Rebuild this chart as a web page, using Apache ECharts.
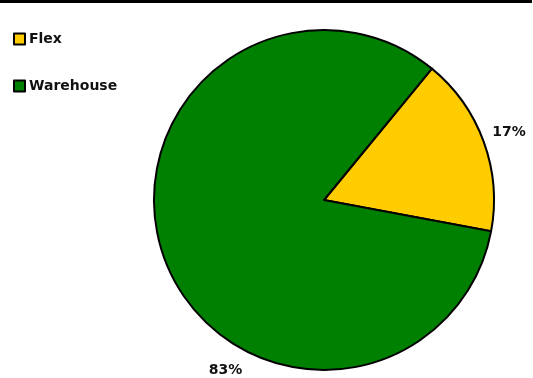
<!DOCTYPE html>
<html>
<head>
<meta charset="utf-8">
<script src="https://cdn.jsdelivr.net/npm/echarts@6/dist/echarts.min.js"></script>
<style>
  html, body { margin: 0; padding: 0; background: #fff; }
  #chart { width: 533px; height: 378px; }
</style>
</head>
<body>
<div id="chart"></div>
<script>
// Share of volume by fulfilment channel
const categories = ['Flex', 'Warehouse'];
const shares = [17, 83];
const sliceColors = ['#FFCC00', '#008000'];

// Where each percentage label sits: angle clockwise from 12 o'clock, gap beyond the rim
const labelAngles = [70, 210];
const labelGap = 27;

const CENTER = [324, 200];
const RADIUS = 170;

const FONT = 'DejaVu Sans';

const chart = echarts.init(document.getElementById('chart'), null, { renderer: 'canvas' });

chart.setOption({
  animation: false,
  backgroundColor: '#ffffff',
  graphic: [{
    type: 'rect',
    left: 0, top: 0,
    shape: { width: 532, height: 3 },
    style: { fill: '#000' },
    silent: true
  }],
  legend: {
    orient: 'vertical',
    left: 13,
    top: 32,
    padding: 0,
    itemWidth: 11,
    itemHeight: 11,
    itemGap: 33,
    icon: 'rect',
    itemStyle: { borderColor: '#000', borderWidth: 2 },
    textStyle: { fontFamily: FONT, fontWeight: 'bold', fontSize: 14, color: '#111', padding: [0, 0, 0, -1] },
    data: categories
  },
  series: [{
    type: 'pie',
    center: CENTER,
    radius: RADIUS,
    startAngle: 90 - 39.4,
    clockwise: true,
    silent: true,
    avoidLabelOverlap: false,
    itemStyle: { borderColor: '#000', borderWidth: 2 },
    label: {
      show: true,
      position: 'inside',
      formatter: p => p.value + '%',
      fontFamily: FONT,
      fontWeight: 'bold',
      fontSize: 14,
      color: '#111',
      overflow: 'none'
    },
    labelLine: { show: false },
    labelLayout: function (params) {
      const a = labelAngles[params.dataIndex] * Math.PI / 180;
      const d = RADIUS + labelGap;
      return {
        x: CENTER[0] + Math.sin(a) * d,
        y: CENTER[1] - Math.cos(a) * d,
        align: 'center',
        verticalAlign: 'middle'
      };
    },
    data: categories.map((name, i) => ({
      name: name,
      value: shares[i],
      itemStyle: { color: sliceColors[i] }
    }))
  }]
});
</script>
</body>
</html>
